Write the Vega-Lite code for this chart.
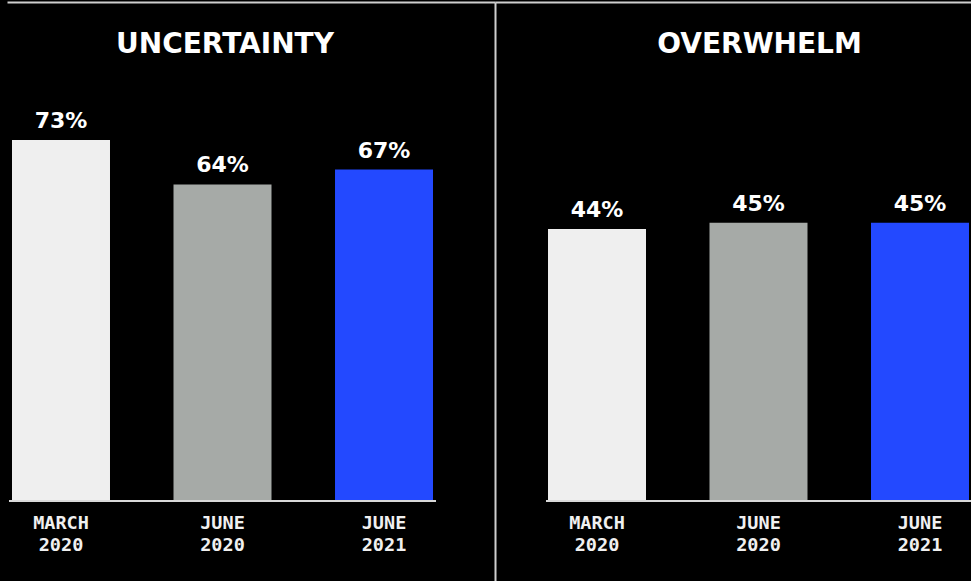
{
  "$schema": "https://vega.github.io/schema/vega-lite/v6.json",
  "background": "#000000",
  "padding": {"left": 7, "top": 2, "right": 0, "bottom": 0},
  "autosize": {"type": "pad"},
  "bounds": "flush",
  "spacing": 0,
  "config": {
    "view": {"stroke": null},
    "font": "DejaVu Sans",
    "axis": {"grid": false, "ticks": false, "labels": false, "domain": false}
  },
  "datasets": {
    "uncertainty": [
      {"period": "MARCH 2020", "share": 0.73},
      {"period": "JUNE 2020", "share": 0.64},
      {"period": "JUNE 2021", "share": 0.67}
    ],
    "overwhelm": [
      {"period": "MARCH 2020", "share": 0.44},
      {"period": "JUNE 2020", "share": 0.45},
      {"period": "JUNE 2021", "share": 0.45}
    ]
  },
  "hconcat": [
    {
      "width": 488,
      "height": 579,
      "title": {"text": "UNCERTAINTY", "frame": "group", "anchor": "middle", "dx": -26, "offset": -79, "baseline": "alphabetic", "fontSize": 28, "font": "DejaVu Sans", "fontWeight": "bold", "color": "#ffffff"},
      "data": {"name": "uncertainty"},
      "resolve": {"axis": {"x": "independent"}},
      "layer": [
        {
          "mark": {"type": "bar"},
          "encoding": {
            "x": {"field": "period", "type": "nominal", "sort": null, "title": null,
              "scale": {"paddingInner": 0.3932, "paddingOuter": 0.2074, "align": 0.0746, "round": false},
              "axis": {"orient": "bottom", "offset": -80, "labels": true, "labelExpr": "split(datum.label, ' ')", "labelFont": "DejaVu Sans Mono", "labelFontWeight": "bold", "labelFontSize": 18.5, "labelColor": "#f0f0f0", "labelLineHeight": 22.4, "labelBaseline": "alphabetic", "labelPadding": 27, "labelAngle": 0}},
            "y": {"field": "share", "type": "quantitative", "title": null,
              "scale": {"domain": [-0.162, 1.009], "nice": false, "zero": false},
              "axis": {"orient": "right", "domain": true, "domainColor": "#cfcfcf", "domainWidth": 2}},
            "y2": {"datum": 0},
            "color": {"field": "period", "type": "nominal", "legend": null,
              "scale": {"domain": ["MARCH 2020", "JUNE 2020", "JUNE 2021"], "range": ["#efefef", "#a6aaa7", "#2349ff"]}}
          }
        },
        {
          "mark": {"type": "rule", "color": "#d9d9d9", "strokeWidth": 2, "xOffset": -3, "x2Offset": 3},
          "encoding": {
            "x": {"datum": "MARCH 2020", "type": "nominal", "bandPosition": 0, "axis": null},
            "x2": {"datum": "JUNE 2021", "bandPosition": 1},
            "y": {"datum": 0, "type": "quantitative"}
          }
        },
        {
          "mark": {"type": "text", "color": "#ffffff", "font": "DejaVu Sans", "fontWeight": "bold", "fontSize": 22, "baseline": "alphabetic", "dy": -12},
          "encoding": {
            "x": {"field": "period", "type": "nominal", "sort": null, "title": null,
              "axis": {"orient": "top", "domain": true, "domainColor": "#cfcfcf", "domainWidth": 2, "labels": false}},
            "y": {"field": "share", "type": "quantitative"},
            "text": {"field": "share", "type": "quantitative", "format": ".0%"}
          }
        }
      ]
    },
    {
      "width": 476,
      "height": 579,
      "title": {"text": "OVERWHELM", "frame": "group", "anchor": "middle", "dx": 26.5, "offset": -79, "baseline": "alphabetic", "fontSize": 28, "font": "DejaVu Sans", "fontWeight": "bold", "color": "#ffffff"},
      "data": {"name": "overwhelm"},
      "resolve": {"axis": {"x": "independent"}},
      "layer": [
        {
          "mark": {"type": "bar"},
          "encoding": {
            "x": {"field": "period", "type": "nominal", "sort": null, "title": null,
              "scale": {"paddingInner": 0.3932, "paddingOuter": 0.1703, "align": 0.9636, "round": false},
              "axis": {"orient": "bottom", "offset": -80, "labels": true, "labelExpr": "split(datum.label, ' ')", "labelFont": "DejaVu Sans Mono", "labelFontWeight": "bold", "labelFontSize": 18.5, "labelColor": "#f0f0f0", "labelLineHeight": 22.4, "labelBaseline": "alphabetic", "labelPadding": 27, "labelAngle": 0}},
            "y": {"field": "share", "type": "quantitative", "title": null,
              "scale": {"domain": [-0.1294, 0.8072], "nice": false, "zero": false},
              "axis": null},
            "y2": {"datum": 0},
            "color": {"field": "period", "type": "nominal", "legend": null,
              "scale": {"domain": ["MARCH 2020", "JUNE 2020", "JUNE 2021"], "range": ["#efefef", "#a6aaa7", "#2349ff"]}}
          }
        },
        {
          "mark": {"type": "rule", "color": "#d9d9d9", "strokeWidth": 2, "xOffset": -2, "x2Offset": 2},
          "encoding": {
            "x": {"datum": "MARCH 2020", "type": "nominal", "bandPosition": 0, "axis": null},
            "x2": {"datum": "JUNE 2021", "bandPosition": 1},
            "y": {"datum": 0, "type": "quantitative"}
          }
        },
        {
          "mark": {"type": "text", "color": "#ffffff", "font": "DejaVu Sans", "fontWeight": "bold", "fontSize": 22, "baseline": "alphabetic", "dy": -12},
          "encoding": {
            "x": {"field": "period", "type": "nominal", "sort": null, "title": null,
              "axis": {"orient": "top", "domain": true, "domainColor": "#cfcfcf", "domainWidth": 2, "labels": false}},
            "y": {"field": "share", "type": "quantitative"},
            "text": {"field": "share", "type": "quantitative", "format": ".0%"}
          }
        }
      ]
    }
  ]
}
